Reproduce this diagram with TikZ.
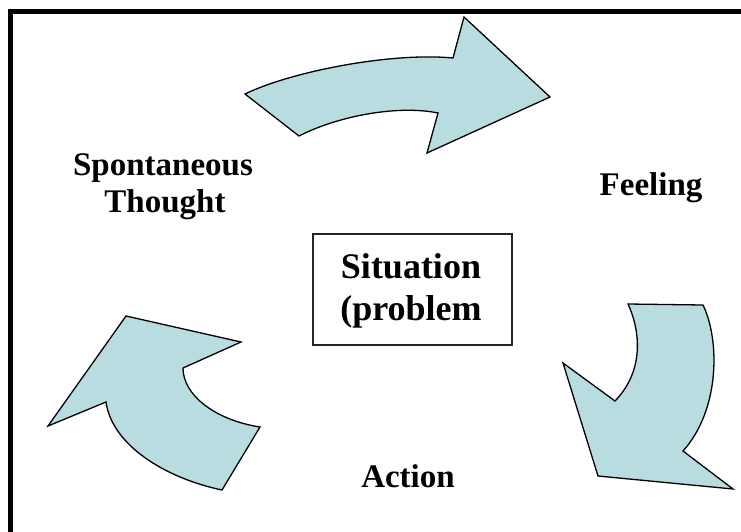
\documentclass[tikz,border=0pt]{standalone}
\usepackage{fontspec}
\setmainfont{Liberation Serif}
\definecolor{arrowfill}{RGB}{184,220,224}
\begin{document}
\begin{tikzpicture}[x=1pt,y=-1pt,
  bigarrow/.style={fill=arrowfill,draw=black,line width=1.3pt,line join=miter},
  label/.style={font=\bfseries\fontsize{33}{37}\selectfont,anchor=base,inner sep=0pt},
  boxlabel/.style={font=\bfseries\fontsize{36}{42}\selectfont,anchor=base,inner sep=0pt}]
\useasboundingbox (0,0) rectangle (741,531);
\clip (0,0) rectangle (741,531);
\fill[white] (0,0) rectangle (741,531);
% outer frame (right and bottom edges lie outside the picture)
\draw[line width=5pt] (10,560) -- (10,11) -- (770,11);
% top arrow
\draw[bigarrow] (245,94) .. controls (290,72) and (390,52) .. (453,58)
  -- (464,17) -- (550,97) -- (427,153) -- (438,113)
  .. controls (400,105) and (340,115) .. (299,136) -- cycle;
% right arrow
\draw[bigarrow] (628,304) -- (703,305) .. controls (720,340) and (720,410) .. (683,451)
  -- (733,489) -- (598,476) -- (563,363) -- (615,401)
  .. controls (645,370) and (640,330) .. (628,304) -- cycle;
% left arrow
\draw[bigarrow] (126,316) -- (241,342) -- (183,368)
  .. controls (183,395) and (215,420) .. (260,427) -- (222,490)
  .. controls (165,478) and (112,445) .. (106,402) -- (48,426) -- cycle;
% labels
\node[label] (spont) at (163,175) {Spontaneous};
\node[label] (thought) at (165,212) {Thought};
\node[label] (feeling) at (651,195) {Feeling};
\node[label] (action) at (408,487) {Action};
% situation box
\node[draw=black!85,line width=1.5pt,minimum width=199pt,minimum height=111pt,inner sep=0pt] (situation) at (412.5,289.5) {};
\node[boxlabel] (sit1) at (411,278) {Situation};
\node[boxlabel] (sit2) at (411,320) {(problem};
\end{tikzpicture}
\end{document}
